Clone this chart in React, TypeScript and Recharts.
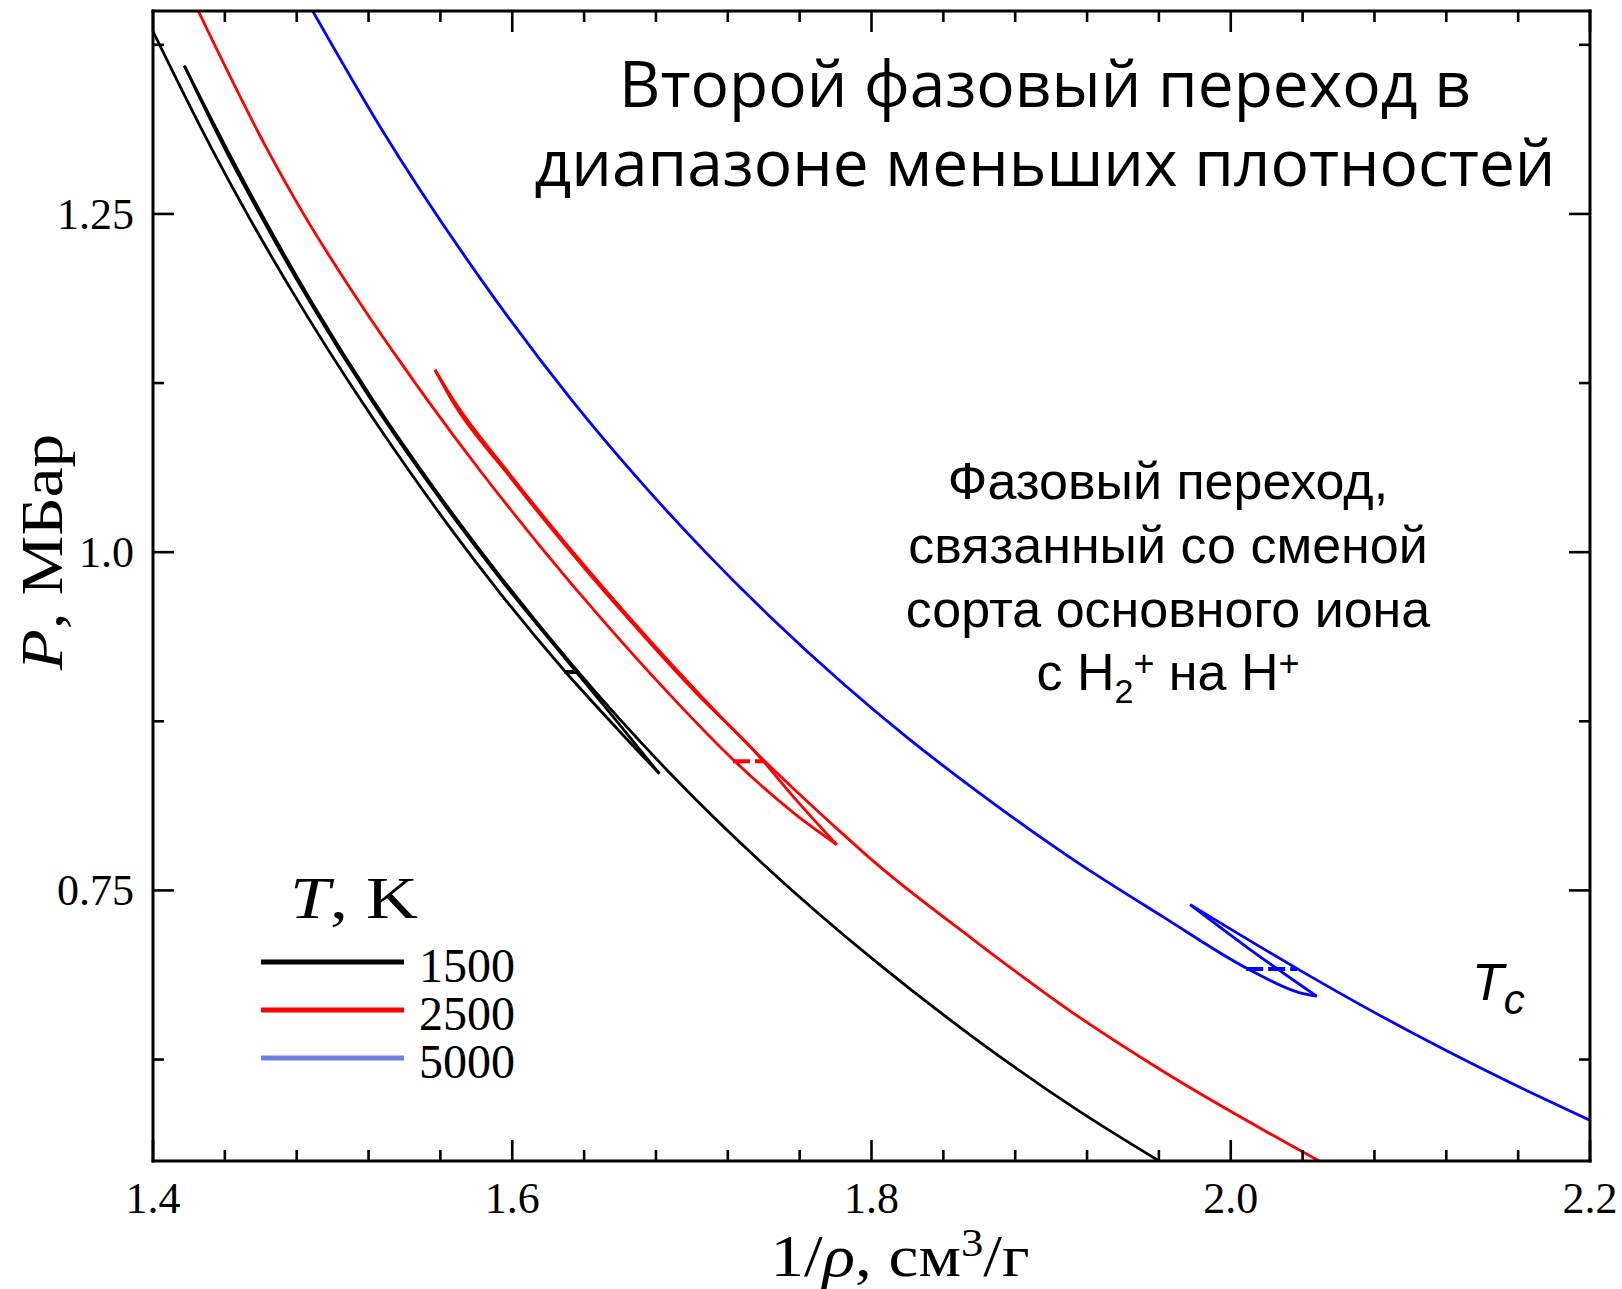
import { LineChart, Line, XAxis, YAxis } from 'recharts';

type Pt = { x: number; y: number };

// x — specific volume 1/rho (cm^3/g), y — pressure P (Mbar)

// T = 1500 K: branch going down to the loop tip, branch coming back, outer branch
const K1500_DESC: Pt[] = [
  { x: 1.4, y: 1.385 }, { x: 1.4326, y: 1.2985 }, { x: 1.4527, y: 1.2493 },
  { x: 1.482, y: 1.1828 }, { x: 1.5156, y: 1.1126 }, { x: 1.5409, y: 1.0633 },
  { x: 1.5676, y: 1.0141 }, { x: 1.5932, y: 0.9698 }, { x: 1.6286, y: 0.9131 },
  { x: 1.6589, y: 0.8688 }, { x: 1.6819, y: 0.8363 },
];
const K1500_RETURN: Pt[] = [
  { x: 1.4174, y: 1.3596 }, { x: 1.4399, y: 1.2985 }, { x: 1.4597, y: 1.2493 },
  { x: 1.4883, y: 1.1828 }, { x: 1.5214, y: 1.1126 }, { x: 1.5534, y: 1.0511 },
  { x: 1.5938, y: 0.9796 }, { x: 1.6331, y: 0.9156 }, { x: 1.6584, y: 0.8747 },
  { x: 1.6819, y: 0.8363 },
];
const K1500_OUTER: Pt[] = [
  { x: 1.4174, y: 1.3596 }, { x: 1.4409, y: 1.2985 }, { x: 1.4607, y: 1.2493 },
  { x: 1.4893, y: 1.1828 }, { x: 1.5224, y: 1.1126 }, { x: 1.5544, y: 1.0511 },
  { x: 1.5948, y: 0.9796 }, { x: 1.6341, y: 0.9156 }, { x: 1.6904, y: 0.8331 },
  { x: 1.742, y: 0.7666 }, { x: 1.8033, y: 0.6964 }, { x: 1.8584, y: 0.6398 },
  { x: 1.9141, y: 0.5881 }, { x: 1.9601, y: 0.55 },
];
const K1500_TIE: Pt[] = [{ x: 1.629, y: 0.9114 }, { x: 1.6368, y: 0.9114 }];

// T = 2500 K
const K2500_DESC: Pt[] = [
  { x: 1.4252, y: 1.4 }, { x: 1.4633, y: 1.2985 }, { x: 1.4847, y: 1.248 },
  { x: 1.5116, y: 1.1914 }, { x: 1.5369, y: 1.1421 }, { x: 1.5527, y: 1.1126 },
  { x: 1.583, y: 1.0587 }, { x: 1.6158, y: 1.004 }, { x: 1.6501, y: 0.9501 },
  { x: 1.6877, y: 0.8947 }, { x: 1.723, y: 0.8466 }, { x: 1.7591, y: 0.8047 },
  { x: 1.7807, y: 0.7838 },
];
const K2500_RETURN: Pt[] = [
  { x: 1.557, y: 1.1348 }, { x: 1.5662, y: 1.1126 }, { x: 1.5969, y: 1.0587 },
  { x: 1.6302, y: 1.004 }, { x: 1.6651, y: 0.9501 }, { x: 1.7032, y: 0.8947 },
  { x: 1.7352, y: 0.8525 }, { x: 1.7569, y: 0.8186 }, { x: 1.7807, y: 0.7838 },
];
const K2500_OUTER: Pt[] = [
  { x: 1.557, y: 1.1348 }, { x: 1.5672, y: 1.1126 }, { x: 1.598, y: 1.0587 },
  { x: 1.6313, y: 1.004 }, { x: 1.6663, y: 0.9501 }, { x: 1.7044, y: 0.8947 },
  { x: 1.7397, y: 0.8466 }, { x: 1.7584, y: 0.823 }, { x: 1.7814, y: 0.7949 },
  { x: 1.802, y: 0.7705 }, { x: 1.8566, y: 0.7137 }, { x: 1.9095, y: 0.6619 },
  { x: 1.9607, y: 0.6176 }, { x: 2.0492, y: 0.55 },
];
const K2500_TIE: Pt[] = [{ x: 1.7229, y: 0.8455 }, { x: 1.7405, y: 0.8455 }];

// T = 5000 K
const K5000_DESC: Pt[] = [
  { x: 1.4889, y: 1.4 }, { x: 1.5264, y: 1.3145 }, { x: 1.5815, y: 1.2037 },
  { x: 1.633, y: 1.1126 }, { x: 1.6697, y: 1.0547 }, { x: 1.7081, y: 0.9993 },
  { x: 1.7434, y: 0.9525 }, { x: 1.7838, y: 0.9033 }, { x: 1.8191, y: 0.8638 },
  { x: 1.8575, y: 0.8245 }, { x: 1.915, y: 0.7703 }, { x: 1.963, y: 0.7299 },
  { x: 2.0086, y: 0.6927 }, { x: 2.0386, y: 0.6743 }, { x: 2.0479, y: 0.6718 },
];
const K5000_RETURN: Pt[] = [
  { x: 1.9774, y: 0.7395 }, { x: 2.0108, y: 0.7063 }, { x: 2.0479, y: 0.6718 },
];
const K5000_OUTER: Pt[] = [
  { x: 1.9774, y: 0.7395 }, { x: 2.0369, y: 0.6922 }, { x: 2.0771, y: 0.6619 },
  { x: 2.121, y: 0.6309 }, { x: 2.1732, y: 0.5967 }, { x: 2.2, y: 0.5801 },
];
const K5000_TIE: Pt[] = [{ x: 2.0086, y: 0.692 }, { x: 2.037, y: 0.692 }];

const TEMPS = ['1500', '2500', '5000'];
const CURVE_COLORS = ['#000000', '#ff0000', '#0000ff'];
const LEGEND_COLORS = ['#000000', '#ff0000', '#6a7fe3'];

const X_DOMAIN = [1.4, 2.2];
const X_TICKS = [
  1.4, 1.44, 1.48, 1.52, 1.56, 1.6, 1.64, 1.68, 1.72, 1.76, 1.8,
  1.84, 1.88, 1.92, 1.96, 2.0, 2.04, 2.08, 2.12, 2.16, 2.2,
];
const X_MAJOR = [1.4, 1.6, 1.8, 2.0, 2.2];
const X_LABELS = ['1.4', '1.6', '1.8', '2.0', '2.2'];

const Y_DOMAIN = [0.55, 1.4];
const Y_TICKS = [0.625, 0.75, 0.875, 1.0, 1.125, 1.25, 1.375];
const Y_MAJOR = [0.75, 1.0, 1.25];
const Y_LABELS = ['0.75', '1.0', '1.25'];

const W = 1622;
const H = 1289;
// every axis takes 1px of its own, the rest of the frame comes from the margin
const MARGIN = { top: 10, right: 31, bottom: 127, left: 152 };

const SERIF = "'Liberation Serif', 'Times New Roman', serif";
const SANS = "'Liberation Sans', Arial, sans-serif";
const TITLE_FONT = "'Open Sans', 'Noto Sans', sans-serif";

const MAJOR_LEN = 21;
const MINOR_LEN = 11;
const TICK_W = 2.6;
const CURVE_W = 2.8;
const TICK_FONT = 44;
const AXIS_LINE = { stroke: '#000', strokeWidth: 3, strokeLinecap: 'square' as const };

const BottomTick = ({ x, y, payload }: any) => {
  const i = X_MAJOR.indexOf(payload.value);
  const len = i >= 0 ? MAJOR_LEN : MINOR_LEN;
  return (
    <g>
      <line x1={x} y1={y} x2={x} y2={y - len} stroke="#000" strokeWidth={TICK_W} />
      {i >= 0 && (
        <text x={x} y={y + 52} textAnchor="middle" fontFamily={SERIF} fontSize={TICK_FONT} fill="#000">
          {X_LABELS[i]}
        </text>
      )}
    </g>
  );
};

const TopTick = ({ x, y, payload }: any) => {
  const len = X_MAJOR.includes(payload.value) ? MAJOR_LEN : MINOR_LEN;
  return <line x1={x} y1={y} x2={x} y2={y + len} stroke="#000" strokeWidth={TICK_W} />;
};

const LeftTick = ({ x, y, payload }: any) => {
  const i = Y_MAJOR.indexOf(payload.value);
  const len = i >= 0 ? MAJOR_LEN : MINOR_LEN;
  return (
    <g>
      <line x1={x} y1={y} x2={x + len} y2={y} stroke="#000" strokeWidth={TICK_W} />
      {i >= 0 && (
        <text x={x - 19} y={y + 15} textAnchor="end" fontFamily={SERIF} fontSize={TICK_FONT} fill="#000">
          {Y_LABELS[i]}
        </text>
      )}
    </g>
  );
};

const RightTick = ({ x, y, payload }: any) => {
  const len = Y_MAJOR.includes(payload.value) ? MAJOR_LEN : MINOR_LEN;
  return <line x1={x} y1={y} x2={x - len} y2={y} stroke="#000" strokeWidth={TICK_W} />;
};

const BRANCHES: { data: Pt[]; color: string }[] = [
  { data: K1500_DESC, color: CURVE_COLORS[0] },
  { data: K1500_RETURN, color: CURVE_COLORS[0] },
  { data: K1500_OUTER, color: CURVE_COLORS[0] },
  { data: K2500_DESC, color: CURVE_COLORS[1] },
  { data: K2500_RETURN, color: CURVE_COLORS[1] },
  { data: K2500_OUTER, color: CURVE_COLORS[1] },
  { data: K5000_DESC, color: CURVE_COLORS[2] },
  { data: K5000_RETURN, color: CURVE_COLORS[2] },
  { data: K5000_OUTER, color: CURVE_COLORS[2] },
];

const TIES: { data: Pt[]; color: string }[] = [
  { data: K1500_TIE, color: CURVE_COLORS[0] },
  { data: K2500_TIE, color: CURVE_COLORS[1] },
  { data: K5000_TIE, color: CURVE_COLORS[2] },
];

const axisCommon = {
  type: 'number' as const,
  allowDataOverflow: true,
  interval: 0 as const,
  tickSize: 0,
  tickMargin: 0,
  tickLine: false,
  axisLine: AXIS_LINE,
};

export default function App() {
  return (
    <div style={{ position: 'absolute', left: 0, top: 0, width: W, height: H, background: '#fff' }}>
      <LineChart width={W} height={H} margin={MARGIN}>
        <XAxis
          {...axisCommon}
          xAxisId="b"
          dataKey="x"
          domain={X_DOMAIN}
          ticks={X_TICKS}
          height={1}
          tick={(p: any) => <BottomTick {...p} />}
        />
        <XAxis
          {...axisCommon}
          xAxisId="t"
          orientation="top"
          dataKey="x"
          domain={X_DOMAIN}
          ticks={X_TICKS}
          height={1}
          tick={(p: any) => <TopTick {...p} />}
        />
        <YAxis
          {...axisCommon}
          yAxisId="l"
          domain={Y_DOMAIN}
          ticks={Y_TICKS}
          width={1}
          tick={(p: any) => <LeftTick {...p} />}
        />
        <YAxis
          {...axisCommon}
          yAxisId="r"
          orientation="right"
          domain={Y_DOMAIN}
          ticks={Y_TICKS}
          width={1}
          tick={(p: any) => <RightTick {...p} />}
        />
        {BRANCHES.map((b, i) => (
          <Line
            key={`branch-${i}`}
            xAxisId="b"
            yAxisId="l"
            data={b.data}
            dataKey="y"
            type="monotone"
            stroke={b.color}
            strokeWidth={CURVE_W}
            dot={false}
            activeDot={false}
            isAnimationActive={false}
          />
        ))}
        {TIES.map((t, i) => (
          <Line
            key={`tie-${i}`}
            xAxisId="b"
            yAxisId="l"
            data={t.data}
            dataKey="y"
            type="linear"
            stroke={t.color}
            strokeWidth={4}
            strokeDasharray="17 5"
            dot={false}
            activeDot={false}
            isAnimationActive={false}
          />
        ))}
      </LineChart>

      <svg
        width={W}
        height={H}
        style={{ position: 'absolute', left: 0, top: 0, pointerEvents: 'none' }}
      >
        {/* axis titles */}
        <g transform="translate(900,1276) scale(1.12,1)">
          <text x={0} y={0} textAnchor="middle" fontFamily={SERIF} fontSize={60} fill="#000">
            1/<tspan fontStyle="italic">ρ</tspan>, см<tspan dy={-20} fontSize={40}>3</tspan>
            <tspan dy={20}>/г</tspan>
          </text>
        </g>
        <g transform="translate(62,552) rotate(-90) scale(1.12,1)">
          <text x={0} y={0} textAnchor="middle" fontFamily={SERIF} fontSize={60} fill="#000">
            <tspan fontStyle="italic">P</tspan>, МБар
          </text>
        </g>

        {/* heading */}
        <text x={1045} y={107} textAnchor="middle" fontFamily={TITLE_FONT} fontSize={64} fill="#000">
          Второй фазовый переход в
        </text>
        <text x={1045} y={186} textAnchor="middle" fontFamily={TITLE_FONT} fontSize={64} fill="#000">
          диапазоне меньших плотностей
        </text>

        {/* note on the transition */}
        <g fontFamily={SANS} fontSize={52} fill="#000" textAnchor="middle">
          <text x={1168} y={499}>Фазовый переход,</text>
          <text x={1168} y={563}>связанный со сменой</text>
          <text x={1168} y={627}>сорта основного иона</text>
          <text x={1168} y={690}>
            с H<tspan dy={13} fontSize={34}>2</tspan>
            <tspan dy={-27} fontSize={36}>+</tspan>
            <tspan dy={14}> на H</tspan>
            <tspan dy={-14} fontSize={36}>+</tspan>
          </text>
        </g>

        <text x={1472} y={1000} fontFamily={SANS} fontStyle="italic" fontSize={52} fill="#000">
          T<tspan dy={14} fontSize={42}>c</tspan>
        </text>

        {/* legend */}
        <g transform="translate(290,918) scale(1.2,1)">
          <text x={0} y={0} fontFamily={SERIF} fontSize={60} fill="#000">
            <tspan fontStyle="italic">T</tspan>, K
          </text>
        </g>
        {TEMPS.map((t, i) => {
          const ly = 962 + i * 48;
          return (
            <g key={t}>
              <line x1={261} y1={ly} x2={404} y2={ly} stroke={LEGEND_COLORS[i]} strokeWidth={5} />
              <text x={419} y={ly + 20} fontFamily={SERIF} fontSize={48} fill="#000">
                {t}
              </text>
            </g>
          );
        })}
      </svg>
    </div>
  );
}
